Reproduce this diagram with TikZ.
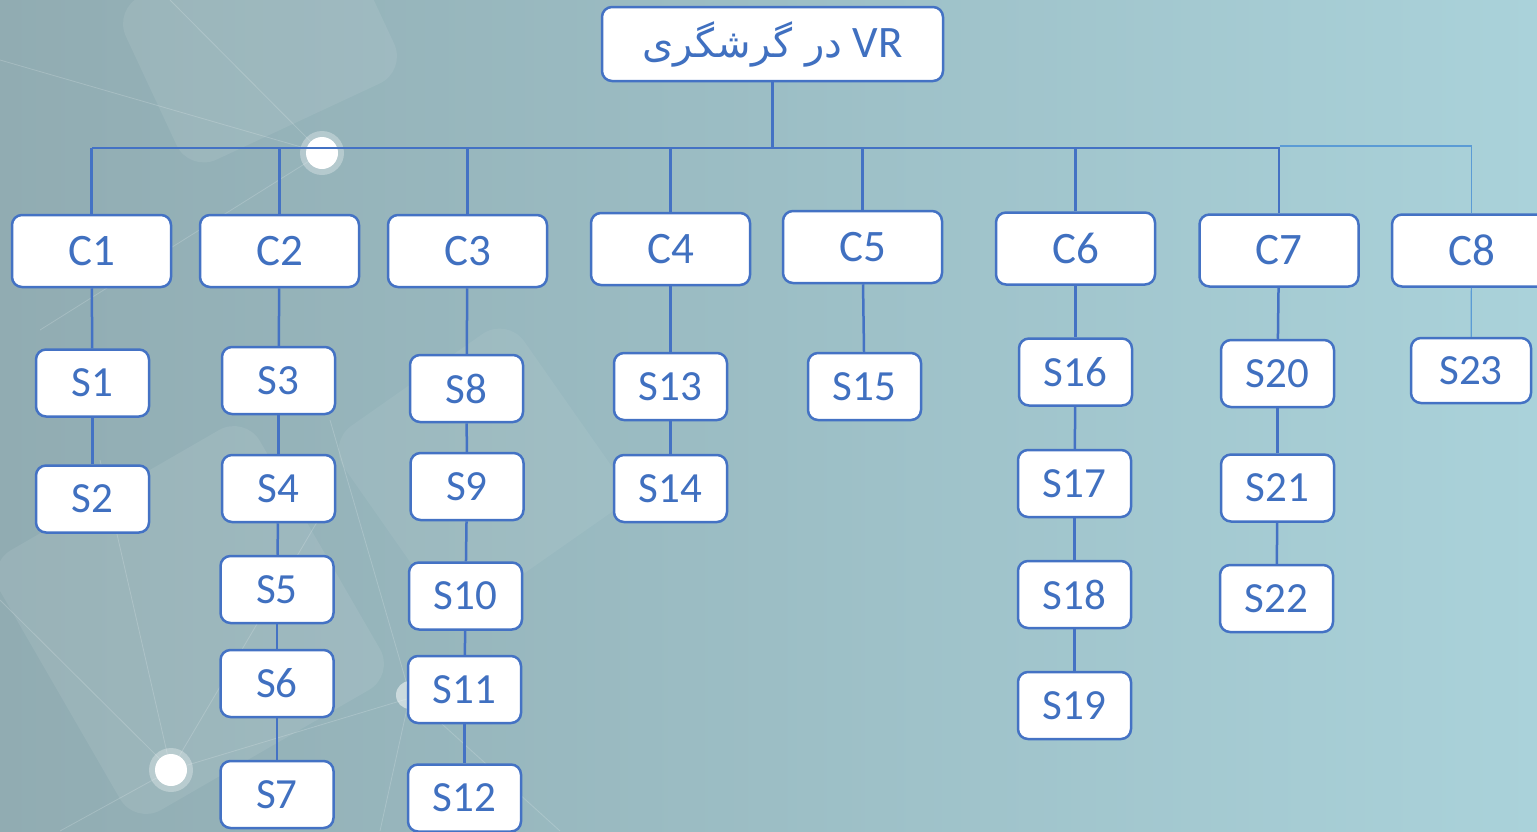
\documentclass[tikz,border=0pt]{standalone}
\usepackage{fontspec}
\setmainfont{Carlito}
\newfontfamily\arabicfont[Script=Arabic]{DejaVu Sans}
\TeXXeTstate=1
\definecolor{bord}{HTML}{4472C4}
\definecolor{txt}{HTML}{4070C0}
\definecolor{thinline}{HTML}{5B9BD5}
\definecolor{bgL}{HTML}{91ACB2}
\definecolor{bgM}{HTML}{9CBEC5}
\definecolor{bgR}{HTML}{AAD2DA}
\begin{document}
\begin{tikzpicture}[x=1pt,y=-1pt,
  box/.style={draw=bord, line width=2.5pt, fill=white, rounded corners=10pt, text=txt, inner sep=0pt, font=\fontsize{43}{43}\selectfont},
  cbox/.style={box, minimum width=159pt, minimum height=72pt, font=\fontsize{45}{45}\selectfont},
  sbox/.style={box, minimum width=113pt, minimum height=67pt},
  conn/.style={draw=bord, line width=2.5pt},
  thinconn/.style={draw=thinline, line width=1.2pt},
  deco/.style={fill=white, opacity=0.08, rounded corners=30pt},
  ray/.style={draw=white, opacity=0.18, line width=0.8pt}]
\useasboundingbox (0,0) rectangle (1537,831);
\clip (0,0) rectangle (1537,831);
% background
\shade[left color=bgL, right color=bgR, middle color=bgM] (0,0) rectangle (1537,831);
% decorative shapes
\begin{scope}[shift={(190,620)}, rotate=30]
  \fill[deco] (-150,-150) rectangle (150,150);
\end{scope}
\begin{scope}[shift={(260,40)}, rotate=25]
  \fill[deco] (-120,-90) rectangle (120,90);
\end{scope}
\begin{scope}[shift={(480,470)}, rotate=35]
  \fill[deco, opacity=0.06] (-110,-110) rectangle (110,110);
\end{scope}
\draw[ray] (171,770) -- (100,460);
\draw[ray] (171,770) -- (0,600);
\draw[ray] (171,770) -- (420,695);
\draw[ray] (171,770) -- (60,831);
\draw[ray] (171,770) -- (330,500);
\draw[ray] (322,153) -- (0,60);
\draw[ray] (322,153) -- (170,0);
\draw[ray] (322,153) -- (40,330);
\draw[ray] (410,695) -- (380,831);
\draw[ray] (410,695) -- (560,831);
\draw[ray] (410,695) -- (330,420);
\fill[white, opacity=0.3] (322,153) circle (22);
\fill[white] (322,153) circle (16);
\fill[white, opacity=0.3] (171,770) circle (22);
\fill[white] (171,770) circle (16);
\fill[white, opacity=0.5] (410,695) circle (14);
% nodes
\node[box, minimum width=341pt, minimum height=74pt, font=\fontsize{45}{45}\selectfont] (root) at (772.5,44)
  {\beginR\beginL VR\endL\ {\arabicfont\fontsize{40}{40}\selectfont در گرشگری}\endR};
\node[cbox] (C1) at (91.5,251) {C1};
\node[cbox] (C2) at (279.5,251) {C2};
\node[cbox] (C3) at (467.5,251) {C3};
\node[cbox] (C4) at (670.5,249) {C4};
\node[cbox] (C5) at (862.5,247) {C5};
\node[cbox] (C6) at (1075.5,248.5) {C6};
\node[cbox] (C7) at (1279,250.5) {C7};
\node[cbox] (C8) at (1471.5,250.5) {C8};
\node[sbox] (S1) at (92.5,383) {S1};
\node[sbox] (S2) at (92.5,499) {S2};
\node[sbox] (S3) at (278.5,380.5) {S3};
\node[sbox] (S4) at (278.5,488.5) {S4};
\node[sbox] (S5) at (277,589.5) {S5};
\node[sbox] (S6) at (277,683.5) {S6};
\node[sbox] (S7) at (277,794.5) {S7};
\node[sbox] (S8) at (466.5,388.5) {S8};
\node[sbox] (S9) at (467,486.5) {S9};
\node[sbox] (S10) at (465.5,596) {S10};
\node[sbox] (S11) at (464.5,689.5) {S11};
\node[sbox] (S12) at (464.5,798) {S12};
\node[sbox] (S13) at (670.5,386.5) {S13};
\node[sbox] (S14) at (670.5,488.5) {S14};
\node[sbox] (S15) at (864.5,386.5) {S15};
\node[sbox] (S16) at (1075.5,372) {S16};
\node[sbox] (S17) at (1074.5,483.5) {S17};
\node[sbox] (S18) at (1074.5,594.5) {S18};
\node[sbox] (S19) at (1074.5,705.5) {S19};
\node[sbox] (S20) at (1277.5,373.5) {S20};
\node[sbox] (S21) at (1277.5,488) {S21};
\node[sbox] (S22) at (1276.5,598.5) {S22};
\node[sbox, minimum width=120pt, minimum height=65pt] (S23) at (1471,370.5) {S23};
% bus
\coordinate (busL) at (92,148);
\coordinate (busR) at (1280,148);
\coordinate (busE) at (1471.5,146);
\draw[conn] (root.south) -- (root.south |- busL);
\draw[conn] (busL) -- (busR);
\foreach \c in {C1,C2,C3,C4,C5,C6,C7} {\draw[conn] (\c.north) -- (\c.north |- busL);}
\draw[thinconn] (busR |- busE) -- (busE) -- (C8.north);
% children
\draw[conn] (C1) -- (S1); \draw[conn] (S1) -- (S2);
\draw[conn] (C2) -- (S3); \draw[conn] (S3) -- (S4); \draw[conn] (S4) -- (S5); \draw[conn] (S5) -- (S6); \draw[conn] (S6) -- (S7);
\draw[conn] (C3) -- (S8); \draw[conn] (S8) -- (S9); \draw[conn] (S9) -- (S10); \draw[conn] (S10) -- (S11); \draw[conn] (S11) -- (S12);
\draw[conn] (C4) -- (S13); \draw[conn] (S13) -- (S14);
\draw[conn] (C5) -- (S15);
\draw[conn] (C6) -- (S16); \draw[conn] (S16) -- (S17); \draw[conn] (S17) -- (S18); \draw[conn] (S18) -- (S19);
\draw[conn] (C7) -- (S20); \draw[conn] (S20) -- (S21); \draw[conn] (S21) -- (S22);
\draw[thinconn] (C8) -- (S23);
\end{tikzpicture}
\end{document}
